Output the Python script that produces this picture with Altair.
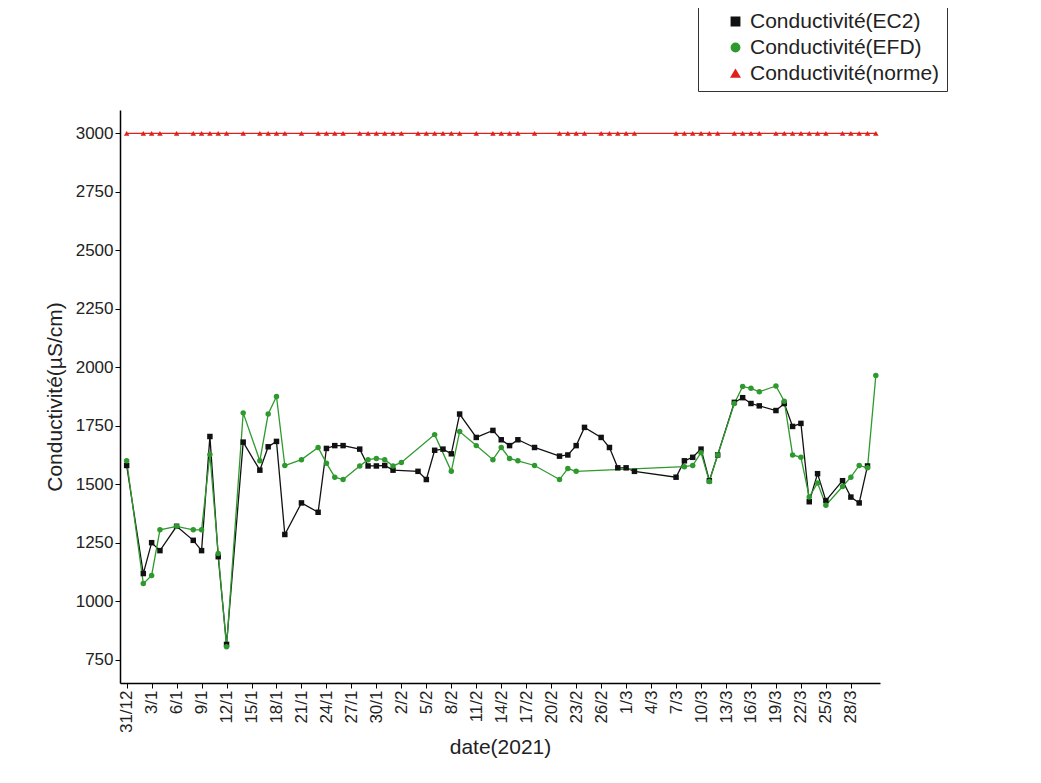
import altair as alt
import pandas as pd

# day index counted from 31/12/2020
ec2_days = [0, 2, 3, 4, 6, 8, 9, 10, 11, 12, 14, 16, 17, 18, 19, 21, 23, 24, 25, 26,
            28, 29, 30, 31, 32, 35, 36, 37, 38, 39, 40, 42, 44, 45, 46, 47, 49, 52, 53,
            54, 55, 57, 58, 59, 60, 61, 66, 67, 68, 69, 70, 71, 73, 74, 75, 76, 78, 79,
            80, 81, 82, 83, 84, 86, 87, 88, 89]
ec2_vals = [1580, 1118, 1250, 1216, 1320, 1260, 1216, 1704, 1190, 815, 1680, 1560, 1660,
            1683, 1285, 1420, 1380, 1653, 1665, 1665, 1650, 1578, 1578, 1580, 1560, 1555,
            1520, 1645, 1650, 1630, 1800, 1700, 1730, 1690, 1665, 1690, 1657, 1620, 1625,
            1665, 1743, 1700, 1657, 1570, 1570, 1555, 1530, 1600, 1615, 1650, 1515, 1625,
            1850, 1870, 1845, 1835, 1815, 1845, 1747, 1760, 1425, 1545, 1430, 1515, 1445,
            1420, 1578]

efd_days = [0, 2, 3, 4, 6, 8, 9, 10, 11, 12, 14, 16, 17, 18, 19, 21, 23, 24, 25, 26,
            28, 29, 30, 31, 32, 33, 37, 39, 40, 42, 44, 45, 46, 47, 49, 52, 53, 54, 67,
            68, 69, 70, 71, 73, 74, 75, 76, 78, 79, 80, 81, 82, 83, 84, 86, 87, 88, 89, 90]
efd_vals = [1600, 1075, 1110, 1305, 1320, 1305, 1305, 1627, 1204, 805, 1805, 1600, 1800,
            1875, 1580, 1605, 1657, 1590, 1530, 1520, 1578, 1605, 1610, 1605, 1578, 1593,
            1712, 1555, 1725, 1665, 1605, 1657, 1610, 1600, 1580, 1520, 1567, 1555, 1575,
            1580, 1635, 1512, 1625, 1845, 1918, 1910, 1895, 1920, 1855, 1625, 1615, 1445,
            1505, 1410, 1490, 1530, 1580, 1570, 1965]

norme_days = [0, 2, 3, 4, 6, 8, 9, 10, 11, 12, 14, 16, 17, 18, 19, 21, 23, 24, 25, 26,
              28, 29, 30, 31, 32, 33, 35, 36, 37, 38, 39, 40, 42, 44, 45, 46, 47, 49, 52,
              53, 54, 55, 57, 58, 59, 60, 61, 66, 67, 68, 69, 70, 71, 73, 74, 75, 76, 78,
              79, 80, 81, 82, 83, 84, 86, 87, 88, 89, 90]
norme_val = 3000

series = ["Conductivité(EC2)", "Conductivité(EFD)", "Conductivité(norme)"]
colors = ["#111111", "#2e9a2e", "#e0201c"]
shapes = ["square", "circle", "triangle-up"]

df = pd.concat([
    pd.DataFrame({"day": ec2_days, "val": ec2_vals, "serie": series[0]}),
    pd.DataFrame({"day": efd_days, "val": efd_vals, "serie": series[1]}),
    pd.DataFrame({"day": norme_days, "val": norme_val, "serie": series[2]}),
])

x = alt.X("day:Q", title="date(2021)", scale=alt.Scale(domain=[-0.8, 90.5], nice=False),
          axis=alt.Axis(values=list(range(0, 88, 3)), labelAngle=270, grid=False,
                        labelExpr="timeFormat(datetime(2020, 11, 31 + datum.value), '%-d/%-m')",
                        labelAlign="right", labelBaseline="middle", titlePadding=4))
y = alt.Y("val:Q", title="Conductivité(µS/cm)", scale=alt.Scale(domain=[650, 3100], nice=False),
          axis=alt.Axis(values=list(range(750, 3001, 250)), format="d", grid=False,
                        titlePadding=10))
color = alt.Color("serie:N", scale=alt.Scale(domain=series, range=colors),
                  legend=alt.Legend(title=None, orient="none", legendX=578, legendY=-106,
                                    strokeColor="#333", padding=7, labelFontSize=21,
                                    labelLimit=400, symbolSize=70, labelColor="#222",
                                    rowPadding=4, symbolOffset=20))
shape = alt.Shape("serie:N", scale=alt.Scale(domain=series, range=shapes), legend=None)

base = alt.Chart(df).encode(x=x, y=y, color=color, detail="serie:N")
lines = base.mark_line(strokeWidth=1.3)
points = base.mark_point(filled=True, size=30, opacity=1).encode(shape=shape)

chart = (lines + points).properties(
    width=760, height=573,
    padding={"left": 112, "top": 102, "right": 150, "bottom": 90},
    autosize=alt.AutoSizeParams(type="none"),
).configure_view(strokeWidth=0).configure_axis(
    labelFont="Liberation Sans", titleFont="Liberation Sans", labelFontSize=17,
    titleFontSize=21, titleFontWeight="normal", labelColor="#222", titleColor="#222",
    domainColor="#000", tickColor="#000", domainWidth=1.5,
).configure_legend(labelFont="Liberation Sans")

chart.save("out.html", embed_options={"renderer": "svg", "actions": False})
